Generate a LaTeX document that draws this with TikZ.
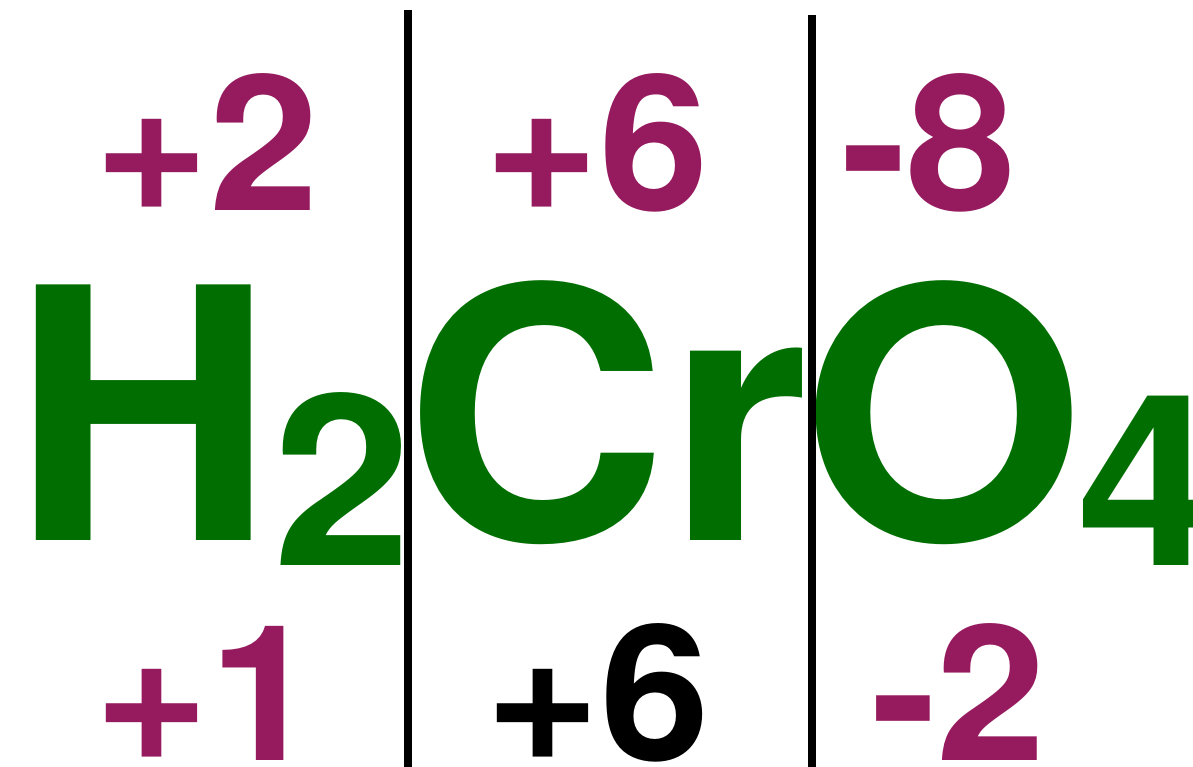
\documentclass[tikz,border=0pt]{standalone}
\usepackage{fontspec}
\setmainfont{TeX Gyre Heros}[FakeStretch=1.04]
\definecolor{elemgreen}{RGB}{0,110,0}
\definecolor{chargepurple}{RGB}{150,26,94}
\tikzset{
  big/.style={inner sep=0pt, anchor=base west, text=elemgreen, font=\fontsize{199.6}{200}\selectfont\bfseries},
  sub/.style={inner sep=0pt, anchor=base west, text=elemgreen, font=\fontsize{136}{136}\selectfont\bfseries},
  charge/.style={inner sep=0pt, anchor=base west, text=chargepurple, font=\fontsize{107.7}{108}\selectfont\bfseries},
  divider/.style={line width=4.5pt, black}
}
\begin{document}
\begin{tikzpicture}[x=0.02cm,y=-0.02cm]
\useasboundingbox (0,0) rectangle (1193,767);
% elements
\node[big] (H) at (11,540) {H};
\node[sub] (s2) at (273,565) {2};
\node[big] (Cr) at (404,540) {Cr};
\node[big] (O) at (801,540) {O};
\node[sub] (s4) at (1077,565) {4};
% top charges
\node[charge] (t1) at (94,210) {+2};
\node[charge] (t2) at (484,210) {+6};
\node[charge] (t3) at (841,210) {-8};
% bottom charges
\node[charge] (b1) at (94,760) {+1};
\node[charge, text=black] (b2) at (485,760) {+6};
\node[charge] (b3) at (871,760) {-2};
% dividers
\coordinate (d1a) at (408,10);
\coordinate (d1b) at (408,767);
\coordinate (d2a) at (812,15);
\coordinate (d2b) at (812,767);
\draw[divider] (d1a) -- (d1b);
\draw[divider] (d2a) -- (d2b);
\end{tikzpicture}
\end{document}
